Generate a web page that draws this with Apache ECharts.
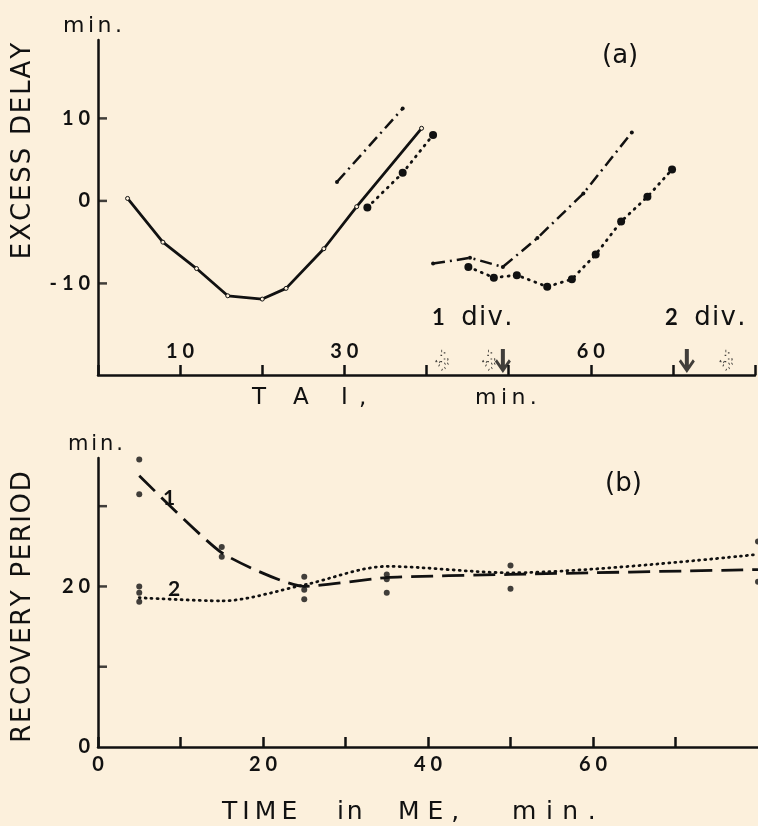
<!DOCTYPE html>
<html>
<head>
<meta charset="utf-8">
<title>Excess delay / recovery period</title>
<script src="https://cdn.jsdelivr.net/npm/echarts@6/dist/echarts.min.js"></script>
<style>
  html, body { margin: 0; padding: 0; background: #fcf0dc; }
  #chart { width: 758px; height: 826px; }
</style>
</head>
<body>
<div id="chart"></div>
<script>
// ---- panel (a): excess delay vs TAI ----
const taiSolid = [[3.6, 0.3], [7.9, -5.0], [12.0, -8.2], [15.8, -11.5], [20.0, -11.9], [22.9, -10.6], [27.5, -5.8], [31.5, -0.7], [39.4, 8.8]]
const taiDashDot1 = [[29.1, 2.3], [37.1, 11.2]]
const taiDotted1 = [[32.8, -0.8], [37.1, 3.4], [40.8, 8.0]]
const taiDashDot2 = [[40.8, -7.6], [45.3, -6.9], [49.3, -8.0], [53.5, -4.5], [59.1, 0.9], [65.0, 8.3]]
const taiDotted2 = [[45.1, -8.0], [48.2, -9.3], [51.0, -9.0], [54.7, -10.4], [57.7, -9.5], [60.6, -6.5], [63.7, -2.5], [66.9, 0.5], [69.9, 3.8]]
const solidArrowX = [49.3, 71.7]
const dottedArrowX = [42.0, 47.7, 76.6]
const arrowY = -19.4
const aXLabels = [10, 30, 60]
const aYTicks = [-10, 0, 10]

// ---- panel (b): recovery period vs time in ME ----
const meCurve1 = [[5, 33.8], [15, 24.2], [25, 20.0], [35, 21.1], [50, 21.5], [80, 22.1]]
const meCurve2 = [[5, 18.6], [15, 18.2], [25, 20.2], [35, 22.5], [50, 21.7], [80, 24.0]]
const meObs = [[5, 35.8], [5, 31.5], [5, 20.0], [5, 19.2], [5, 18.1], [15, 24.9], [15, 23.7], [25, 21.2], [25, 19.6], [25, 18.4],
  [35, 21.5], [35, 20.9], [35, 19.2], [50, 22.6], [50, 19.7], [80, 25.6], [80, 20.6]]
const bXLabels = [0, 20, 40, 60]
const bYLabels = [0, 20]
const bYTicks = [10, 20, 30]

const INK = '#111'
const NUMFONT = 'Lato, "DejaVu Sans", sans-serif'
const FONT = '"DejaVu Sans", sans-serif'
const spaced = v => String(v).split('').join(' ')
const arrowPath = 'path://M4,0 L8,0 L8,14 L12,9 L14,11 L6,21 L-2,11 L0,9 L4,14 Z'

// letter tracking through small rich-text spacer tokens (space ~0.32em in DejaVu)
const gapRich = { g40: { fontSize: 40, fontFamily: FONT } }
const track = (str, gap) => {
  const fs = Math.max(4, Math.round(gap / 0.318))
  gapRich['g' + fs] = { fontSize: fs, fontFamily: FONT }
  return str.split('').join(`{g${fs}| }`)
}

// inward y ticks: short horizontal bars sitting on the y axis
const yTickSeries = (idx, ticks) => ({
  name: 'yTicks' + idx, type: 'scatter', xAxisIndex: idx, yAxisIndex: idx, silent: true, clip: false,
  data: ticks.map(v => [0, v]),
  symbol: 'rect', symbolSize: [9, 2.5], symbolOffset: [4.5, 0], itemStyle: { color: INK }
})

const chart = echarts.init(document.getElementById('chart'))

const axisLine = { onZero: false, lineStyle: { color: INK, width: 2.5 } }
const tickStyle = { color: INK, width: 2.5 }
const numLabel = { color: INK, fontFamily: NUMFONT, fontWeight: 'bold', fontSize: 20 }

const text = (x, y, str, font, extra) => ({
  type: 'text', x, y,
  style: Object.assign({ text: str, fill: INK, font: `${font} ${FONT}`, textAlign: 'left', textVerticalAlign: 'middle', rich: gapRich }, extra || {})
})
const divRich = () => Object.assign({ b: { fontWeight: 'bold', fontSize: 22, fontFamily: NUMFONT } }, gapRich)

const graphics = [
  text(63, 26, track('min.', 3.5), '22px'),
  text(602, 56, '(a)', '26px'),
  text(432, 318, '{b|1}  ' + track('div.', 1.2), '26px', { rich: divRich() }),
  text(665, 318, '{b|2}  ' + track('div.', 1.2), '26px', { rich: divRich() }),
  text(252, 398, 'T', '23px'),
  text(293, 398, 'A', '23px'),
  text(341, 398, 'I', '23px'),
  text(359, 398, ',', '23px'),
  text(475, 398, track('min.', 4.5), '22px'),
  {
    type: 'text', x: 23, y: 151, rotation: Math.PI / 2,
    style: { text: track('EXCESS', 1.9) + '{g40| }' + track('DELAY', 1.9), fill: INK, font: `26px ${FONT}`, textAlign: 'center', textVerticalAlign: 'middle', rich: gapRich }
  },
  text(68, 445, track('min.', 3), '21px'),
  text(605, 484, '(b)', '26px'),
  text(163, 498, '1', 'bold 21px', { font: `bold 21px ${NUMFONT}` }),
  text(168, 589, '2', 'bold 21px', { font: `bold 21px ${NUMFONT}` }),
  {
    type: 'text', x: 23, y: 607, rotation: Math.PI / 2,
    style: { text: track('RECOVERY', 1.5) + '{g40| }' + track('PERIOD', 1.5), fill: INK, font: `26px ${FONT}`, textAlign: 'center', textVerticalAlign: 'middle', rich: gapRich }
  },
  text(222, 812, track('TIME', 5), '25px'),
  text(337, 812, track('in', 3), '25px'),
  text(398, 812, track('ME,', 8), '25px'),
  text(512, 812, track('min.', 9.5), '25px')
]

chart.setOption({
  backgroundColor: '#fcf0dc',
  animation: false,
  grid: [
    { left: 98, top: 40, right: 0, bottom: 451 },
    { left: 98, top: 458, right: 0, bottom: 79 }
  ],
  xAxis: [
    {
      gridIndex: 0, type: 'value', min: 0, max: 80, interval: 10,
      axisLine, splitLine: { show: false },
      axisTick: { inside: true, length: 10, lineStyle: tickStyle },
      axisLabel: Object.assign({ inside: true, margin: 13, formatter: v => aXLabels.includes(v) ? spaced(v) : '' }, numLabel)
    },
    {
      gridIndex: 1, type: 'value', min: 0, max: 80, interval: 10,
      axisLine, splitLine: { show: false },
      axisTick: { inside: true, length: 10, lineStyle: tickStyle },
      axisLabel: Object.assign({ margin: 8, showMaxLabel: false, formatter: v => bXLabels.includes(v) ? spaced(v) : '' }, numLabel)
    }
  ],
  yAxis: [
    {
      gridIndex: 0, type: 'value', min: -21.1, max: 19.5,
      axisLine, splitLine: { show: false }, axisTick: { show: false },
      axisLabel: Object.assign({ margin: 8, customValues: aYTicks, formatter: v => spaced(v) }, numLabel)
    },
    {
      gridIndex: 1, type: 'value', min: 0, max: 36,
      axisLine, splitLine: { show: false }, axisTick: { show: false },
      axisLabel: Object.assign({ margin: 8, customValues: bYLabels, formatter: v => spaced(v) }, numLabel)
    }
  ],
  series: [
    yTickSeries(0, aYTicks),
    yTickSeries(1, bYTicks),
    // (a) first division
    {
      name: 'solid', type: 'line', xAxisIndex: 0, yAxisIndex: 0, data: taiSolid,
      lineStyle: { color: INK, width: 2.8 },
      symbol: 'circle', symbolSize: 4, itemStyle: { color: '#fcf0dc', borderColor: INK, borderWidth: 1 }
    },
    {
      name: 'dashdot1', type: 'line', xAxisIndex: 0, yAxisIndex: 0, data: taiDashDot1,
      lineStyle: { color: INK, width: 2.5, type: [12, 5, 2, 5] },
      symbol: 'circle', symbolSize: 4, itemStyle: { color: INK }
    },
    {
      name: 'dotted1', type: 'line', xAxisIndex: 0, yAxisIndex: 0, data: taiDotted1,
      lineStyle: { color: INK, width: 2.8, type: [1, 6], cap: 'round' },
      symbol: 'circle', symbolSize: 8, itemStyle: { color: INK }
    },
    // (a) second division
    {
      name: 'dashdot2', type: 'line', xAxisIndex: 0, yAxisIndex: 0, data: taiDashDot2,
      lineStyle: { color: INK, width: 2.5, type: [12, 5, 2, 5] },
      symbol: 'circle', symbolSize: 4, itemStyle: { color: INK }
    },
    {
      name: 'dotted2', type: 'line', xAxisIndex: 0, yAxisIndex: 0, data: taiDotted2,
      lineStyle: { color: INK, width: 2.8, type: [1, 6], cap: 'round' },
      symbol: 'circle', symbolSize: 8, itemStyle: { color: INK }
    },
    // division arrows
    {
      name: 'arrows', type: 'scatter', xAxisIndex: 0, yAxisIndex: 0,
      data: solidArrowX.map(x => [x, arrowY]),
      symbol: arrowPath, symbolSize: [16, 24], itemStyle: { color: INK }
    },
    {
      name: 'dotArrows', type: 'scatter', xAxisIndex: 0, yAxisIndex: 0,
      data: dottedArrowX.map(x => [x, arrowY]),
      symbol: arrowPath, symbolSize: [13, 20],
      itemStyle: { color: 'rgba(0,0,0,0)', borderColor: INK, borderWidth: 2, borderType: [1, 4] }
    },
    // (b)
    {
      name: '1', type: 'line', xAxisIndex: 1, yAxisIndex: 1, data: meCurve1, smooth: 0.18,
      lineStyle: { color: INK, width: 2.8, type: [22, 9] }, symbol: 'none'
    },
    {
      name: '2', type: 'line', xAxisIndex: 1, yAxisIndex: 1, data: meCurve2, smooth: 0.3,
      lineStyle: { color: INK, width: 2.8, type: [1, 5], cap: 'round' }, symbol: 'none'
    },
    {
      name: 'obs', type: 'scatter', xAxisIndex: 1, yAxisIndex: 1, data: meObs,
      symbol: 'circle', symbolSize: 6, itemStyle: { color: INK }
    }
  ],
  graphic: graphics
})

window.addEventListener('resize', () => chart.resize())
</script>
</body>
</html>
